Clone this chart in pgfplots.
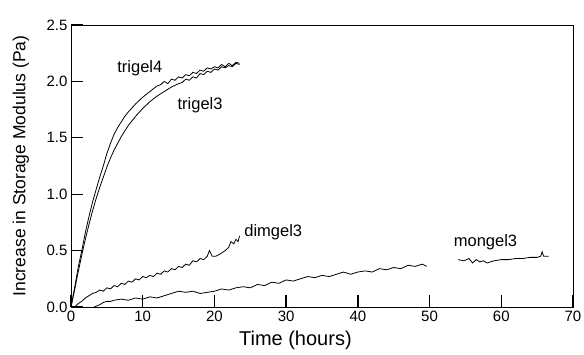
\documentclass[border=0pt]{standalone}
\usepackage{pgfplots}
\pgfplotsset{compat=1.18}
\usepackage{fontspec}
\setmainfont{Liberation Sans}
\begin{document}
\begin{tikzpicture}
\begin{axis}[
  at={(0pt,0pt)}, anchor=origin,
  x=7.1714pt, y=112.8pt,
  xmin=0, xmax=70, ymin=0, ymax=2.5,
  xtick={0,10,20,30,40,50,60,70}, ytick={0,0.5,1,1.5,2,2.5},
  xtick pos=bottom, ytick pos=left, tick align=inside,
  major tick length=12pt,
  tick style={black, line width=1.3pt},
  axis line style={line width=0.9pt},
  xticklabel style={/pgf/number format/assume math mode=true, /pgf/number format/fixed, /pgf/number format/precision=0, font=\fontsize{15}{15}\selectfont},
  yticklabel style={/pgf/number format/assume math mode=true, /pgf/number format/fixed, /pgf/number format/fixed zerofill, /pgf/number format/precision=1, font=\fontsize{15}{15}\selectfont},
  xlabel={Time (hours)},
  ylabel={Increase in Storage Modulus (Pa)},
  xlabel style={font=\fontsize{20}{20}\selectfont, at={(axis description cs:0.447,-0.117)}, anchor=center},
  ylabel style={font=\fontsize{17.5}{17.5}\selectfont, at={(axis description cs:-0.1,0.5)}, anchor=center},
  clip=false,
]
% trigel4
\addplot[black, line width=0.8pt] coordinates {
(0,0) (0.5,0.17) (1,0.35) (1.5,0.5) (2,0.66) (2.5,0.8) (3,0.93) (3.5,1.04) (4,1.15) (4.5,1.25) (5,1.36)
(5.5,1.45) (6,1.53) (6.5,1.59) (7,1.64) (7.5,1.69) (8,1.73) (9,1.80) (10,1.86) (11,1.91) (12,1.96)
(12.5,1.97) (13,2.00) (13.5,1.98) (14,2.02) (14.5,2.01) (15,2.04) (15.5,2.03) (16,2.06) (16.5,2.05)
(17,2.08) (17.5,2.07) (18,2.10) (18.5,2.09) (19,2.12) (19.5,2.11) (20,2.13) (20.5,2.12) (21,2.15)
(21.5,2.13) (22,2.16) (22.5,2.14) (23,2.17) (23.5,2.16)
};
% trigel3
\addplot[black, line width=0.8pt] coordinates {
(0,0) (0.5,0.15) (1,0.31) (1.5,0.46) (2,0.6) (2.5,0.73) (3,0.85) (3.5,0.96) (4,1.06) (4.5,1.15) (5,1.24)
(5.5,1.32) (6,1.39) (6.5,1.45) (7,1.51) (7.5,1.56) (8,1.61) (9,1.69) (10,1.76) (11,1.82) (12,1.87)
(13,1.91) (14,1.95) (15,1.98) (15.5,1.99) (16,2.02) (16.5,2.01) (17,2.04) (17.5,2.03) (18,2.07)
(18.5,2.06) (19,2.09) (19.5,2.08) (20,2.11) (20.5,2.10) (21,2.13) (21.5,2.12) (22,2.14) (22.5,2.13)
(23,2.16) (23.5,2.15)
};
% dimgel3
\addplot[black, line width=0.8pt] coordinates {
(0.5,0) (1,0.03) (1.5,0.05) (2,0.08) (2.5,0.1) (3,0.12) (3.5,0.13) (4,0.15) (4.5,0.14) (5,0.17)
(5.5,0.16) (6,0.19) (6.5,0.18) (7,0.21) (7.5,0.2) (8,0.23) (8.5,0.22) (9,0.25) (9.5,0.24) (10,0.27)
(10.5,0.26) (11,0.28) (11.5,0.27) (12,0.3) (12.5,0.29) (13,0.32) (13.5,0.31) (14,0.34) (14.5,0.33)
(15,0.36) (15.5,0.35) (16,0.38) (16.5,0.37) (17,0.41) (17.5,0.4) (18,0.43) (18.5,0.42) (19,0.45)
(19.3,0.5) (19.7,0.45) (20.2,0.45) (20.8,0.47) (21.5,0.5) (22,0.53) (22.3,0.58) (22.7,0.56) (23,0.6)
(23.3,0.58) (23.5,0.63)
};
% mongel3 part 1
\addplot[black, line width=0.8pt] coordinates {
(3.2,0) (4,0.02) (4.5,0.04) (5,0.05) (5.5,0.05) (6,0.06) (7,0.07) (8,0.06) (9,0.08) (10,0.07) (11,0.09)
(12,0.08) (13,0.1) (14,0.12) (15,0.14) (16,0.13) (17,0.14) (18,0.12) (19,0.13) (20,0.14) (21,0.16)
(22,0.15) (23,0.17) (24,0.18) (25,0.17) (26,0.2) (27,0.19) (28,0.22) (29,0.21) (30,0.24) (31,0.23)
(32,0.25) (33,0.27) (34,0.26) (35,0.28) (36,0.27) (37,0.29) (38,0.31) (39,0.29) (40,0.31) (41,0.32)
(42,0.31) (43,0.34) (44,0.33) (45,0.35) (46,0.34) (47,0.37) (48,0.36) (49,0.38) (49.6,0.36)
};
% mongel3 part 2
\addplot[black, line width=0.8pt] coordinates {
(54,0.42) (54.8,0.41) (55.5,0.43) (56,0.39) (56.5,0.42) (57,0.4) (57.5,0.41) (58,0.39) (59,0.41)
(60,0.42) (61,0.42) (62,0.43) (63,0.43) (64,0.44) (65,0.44) (65.5,0.45) (65.7,0.49) (65.9,0.45) (66.6,0.45)
};
% tick marks (axis decoration)
\pgfplotsinvokeforeach{10,20,30,40,50,60}{
  \draw[black, line width=1.3pt] (axis cs:#1,0) -- ++(0pt,12pt);
}
\pgfplotsinvokeforeach{0.5,1,1.5,2}{
  \draw[black, line width=1.3pt] (axis cs:0,#1) -- ++(12pt,0pt);
}
\node[font=\fontsize{16.5}{16.5}\selectfont] at (axis cs:9.6,2.12) {trigel4};
\node[font=\fontsize{16.5}{16.5}\selectfont] at (axis cs:18,1.79) {trigel3};
\node[font=\fontsize{16.5}{16.5}\selectfont] at (axis cs:28.2,0.66) {dimgel3};
\node[font=\fontsize{16.5}{16.5}\selectfont] at (axis cs:57.8,0.57) {mongel3};
\end{axis}
\pgfresetboundingbox
\path[use as bounding box] (-71pt,-47pt) rectangle (513pt,307pt);
\end{tikzpicture}
\end{document}
